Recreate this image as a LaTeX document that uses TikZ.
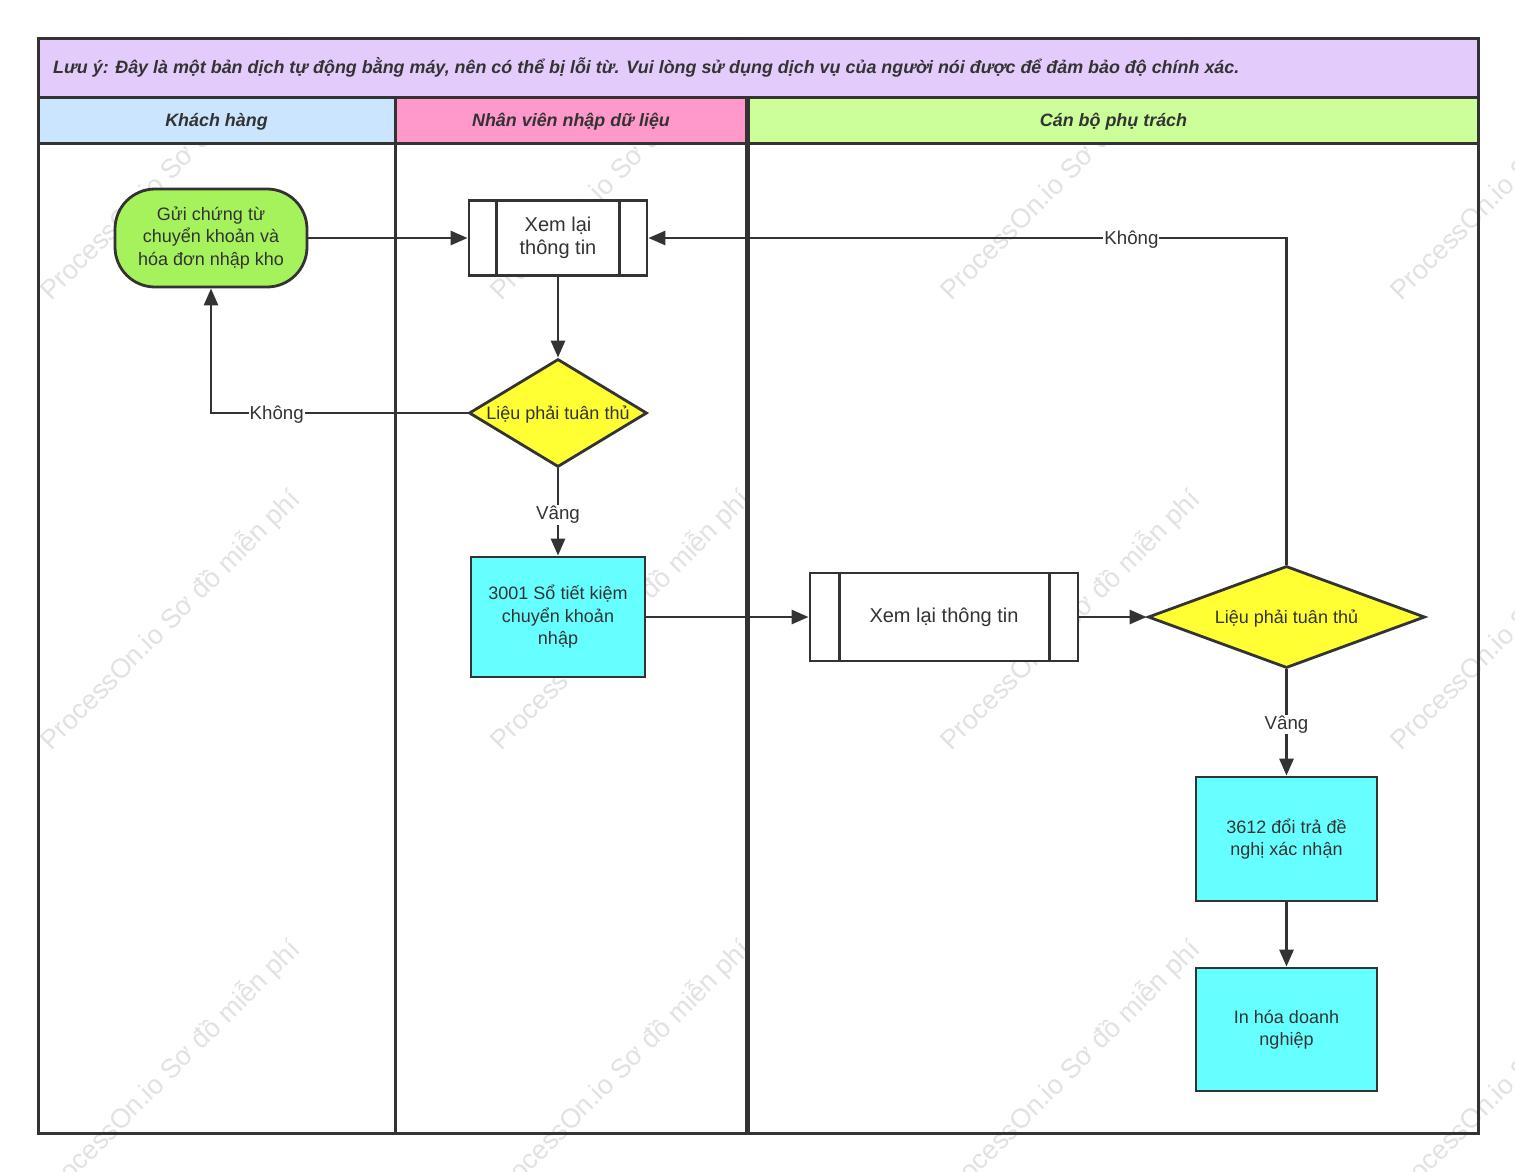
\documentclass[tikz,border=0pt]{standalone}
\usepackage{fontspec}
\setmainfont{Liberation Sans}
\usetikzlibrary{arrows.meta,shapes.geometric}
\definecolor{ink}{HTML}{333333}
\definecolor{titlefill}{HTML}{E3CCFB}
\definecolor{laneA}{HTML}{CCE5FF}
\definecolor{laneB}{HTML}{FF99CC}
\definecolor{laneC}{HTML}{CCFF99}
\definecolor{startfill}{HTML}{A5F25C}
\definecolor{decfill}{HTML}{FFFF33}
\definecolor{boxfill}{HTML}{66FFFF}
\definecolor{wmgray}{HTML}{E2E2E2}
\begin{document}
\begin{tikzpicture}[x=1pt,y=-1pt,
  txt/.style={font=\fontsize{18}{22.5}\selectfont, text=ink, align=center},
  subtxt/.style={font=\fontsize{20}{23}\selectfont, text=ink, align=center},
  frame/.style={draw=ink, line width=3pt},
  startbox/.style={txt, draw=ink, line width=2.8pt, fill=startfill, rounded corners=40pt, minimum width=192pt, minimum height=98pt, inner sep=0pt},
  subbox/.style={subtxt, draw=ink, line width=2.8pt, fill=white, inner sep=0pt},
  decbox/.style={draw=ink, line width=2.8pt, fill=decfill, diamond, inner sep=0pt},
  declbl/.style={txt, yshift=-2pt},
  procbox/.style={txt, draw=ink, line width=2.8pt, fill=boxfill, inner sep=0pt},
  conn/.style={draw=ink, line width=2.8pt, -{Triangle[length=17pt,width=14pt]}},
  lbl/.style={font=\fontsize{18.7}{22}\selectfont, text=ink, fill=white, inner sep=1pt, yshift=-2pt},
  hdr/.style={font=\fontsize{17.9}{20}\selectfont\bfseries\itshape, text=ink, inner sep=0pt},
  wm/.style={font=\fontsize{27}{27}\selectfont, text=wmgray, rotate=45}
]
\useasboundingbox (0,0) rectangle (1515,1171);
\fill[white] (0,0) rectangle (1515,1171);
% watermarks
\begin{scope}
\clip (0,0) rectangle (1515,1171);
\foreach \x in {170,620,1070,1520}
  \foreach \y in {170,620,1070}
    \node[wm] at (\x,\y) {ProcessOn.io Sơ đồ miễn phí};
\end{scope}
% title and lane headers
\fill[titlefill] (38,38) rectangle (1478,97);
\fill[laneA] (38,97) rectangle (395,143);
\fill[laneB] (395,97) rectangle (747,143);
\fill[laneC] (749,97) rectangle (1478,143);
\node[hdr, anchor=west] (title) at (53,67) {Lưu ý: Đây là một bản dịch tự động bằng máy, nên có thể bị lỗi từ. Vui lòng sử dụng dịch vụ của người nói được để đảm bảo độ chính xác.};
\node[hdr] (hA) at (216.5,121.5) {Khách hàng};
\node[hdr] (hB) at (571,121.5) {Nhân viên nhập dữ liệu};
\node[hdr] (hC) at (1113.5,121.5) {Cán bộ phụ trách};
\draw[frame] (38,38) rectangle (1478,1133);
\draw[frame] (38,97) -- (1478,97);
\draw[frame] (38,143) -- (1478,143);
\draw[frame] (395,97) -- (395,1133);
\draw[draw=ink, line width=4.6pt] (747.5,97) -- (747.5,1133);
% nodes
\node[startbox] (start) at (211,238) {Gửi chứng từ\\chuyển khoản và\\hóa đơn nhập kho};
\node[subbox, minimum width=178pt, minimum height=75pt] (s1) at (558,238) {Xem lại\\thông tin};
\draw[ink, line width=2.8pt] ([xshift=29pt]s1.north west) -- ([xshift=29pt]s1.south west);
\draw[ink, line width=2.8pt] ([xshift=-29pt]s1.north east) -- ([xshift=-29pt]s1.south east);
\node[decbox, minimum width=178pt, minimum height=108pt, label={[declbl]center:Liệu phải tuân thủ}] (d1) at (558,413) {};
\node[procbox, minimum width=174pt, minimum height=120pt] (b1) at (558,617) {3001 Sổ tiết kiệm\\chuyển khoản\\nhập};
\node[subbox, minimum width=268pt, minimum height=88pt] (s2) at (944,617) {Xem lại thông tin};
\draw[ink, line width=2.8pt] ([xshift=31pt]s2.north west) -- ([xshift=31pt]s2.south west);
\draw[ink, line width=2.8pt] ([xshift=-30pt]s2.north east) -- ([xshift=-30pt]s2.south east);
\node[decbox, minimum width=277pt, minimum height=102pt, label={[declbl]center:Liệu phải tuân thủ}] (d2) at (1286.5,617) {};
\node[procbox, minimum width=181pt, minimum height=124pt] (b2) at (1286.5,839) {3612 đổi trả đề\\nghị xác nhận};
\node[procbox, minimum width=181pt, minimum height=123pt] (b3) at (1286.5,1029.5) {In hóa doanh\\nghiệp};
% connectors
\draw[conn] (start.east) -- (s1.west);
\draw[conn] (s1.south) -- (d1.north);
\draw[conn] (d1.west) -- node[lbl, pos=0.744] {Không} (d1.west -| start.south) -- (start.south);
\draw[conn] (d1.south) -- node[lbl, pos=0.51] {Vâng} (b1.north);
\draw[conn] (b1.east) -- (s2.west);
\draw[conn] (s2.east) -- (d2.west);
\draw[conn] (d2.north) -- (d2.north |- s1.east) -- node[lbl, pos=0.243] {Không} (s1.east);
\draw[conn] (d2.south) -- node[lbl, pos=0.5] {Vâng} (b2.north);
\draw[conn] (b2.south) -- (b3.north);
\end{tikzpicture}
\end{document}
